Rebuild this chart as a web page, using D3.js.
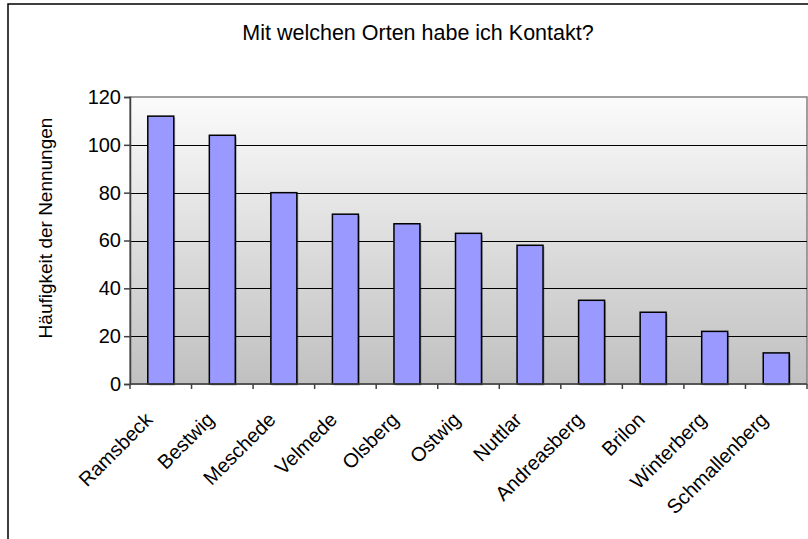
<!DOCTYPE html>
<html>
<head>
<meta charset="utf-8">
<script src="https://cdn.jsdelivr.net/npm/d3@7"></script>
<style>
  html, body { margin: 0; padding: 0; background: #fff; }
  svg { display: block; font-family: "Liberation Sans", Arial, sans-serif; }
</style>
</head>
<body>
<svg id="chart" width="808" height="539"></svg>
<script>
// Places and how often each one was named
const places = ["Ramsbeck", "Bestwig", "Meschede", "Velmede", "Olsberg", "Ostwig",
                "Nuttlar", "Andreasberg", "Brilon", "Winterberg", "Schmallenberg"];
const mentions = [112, 104, 80, 71, 67, 63, 58, 35, 30, 22, 13];
const yTicks = [0, 20, 40, 60, 80, 100, 120];
const titleText = "Mit welchen Orten habe ich Kontakt?";
const yTitle = "Häufigkeit der Nennungen";

const svg = d3.select("#chart");
const plot = { left: 130, right: 807, top: 97, bottom: 384 };

const x = d3.scaleBand()
  .domain(places)
  .range([plot.left, plot.right])
  .paddingInner(0.578)
  .paddingOuter(0.289);

const y = d3.scaleLinear()
  .domain([0, 120])
  .range([plot.bottom, plot.top]);

// Outer chart frame
svg.append("rect")
  .attr("x", 8).attr("y", 4)
  .attr("width", 840).attr("height", 560)
  .attr("fill", "#fff")
  .attr("stroke", "#000").attr("stroke-width", 1.5);

// Plot area background gradient
const defs = svg.append("defs");
const grad = defs.append("linearGradient")
  .attr("id", "plotBg").attr("x1", 0).attr("y1", 0).attr("x2", 0).attr("y2", 1);
grad.append("stop").attr("offset", "0%").attr("stop-color", "#fbfbfb");
grad.append("stop").attr("offset", "100%").attr("stop-color", "#c0c0c0");

svg.append("rect")
  .attr("x", plot.left).attr("y", plot.top)
  .attr("width", plot.right - plot.left).attr("height", plot.bottom - plot.top)
  .attr("fill", "url(#plotBg)")
  .attr("stroke", "#808080").attr("stroke-width", 1.5);

// Horizontal gridlines
svg.append("g")
  .selectAll("line")
  .data(yTicks.filter(v => v > 0 && v < 120))
  .join("line")
  .attr("x1", plot.left).attr("x2", plot.right)
  .attr("y1", d => Math.round(y(d)) + 0.5).attr("y2", d => Math.round(y(d)) + 0.5)
  .attr("stroke", "#000").attr("stroke-width", 1);

// Bar shadows
svg.append("g")
  .selectAll("rect")
  .data(places)
  .join("rect")
  .attr("x", d => x(d) + 1.5)
  .attr("y", (d, i) => y(mentions[i]) + 1.5)
  .attr("width", x.bandwidth())
  .attr("height", (d, i) => y(0) - y(mentions[i]))
  .attr("fill", "#000").attr("opacity", 0.25);

// Bars
svg.append("g")
  .selectAll("rect")
  .data(places)
  .join("rect")
  .attr("x", d => x(d))
  .attr("y", (d, i) => y(mentions[i]))
  .attr("width", x.bandwidth())
  .attr("height", (d, i) => y(0) - y(mentions[i]))
  .attr("fill", "#9999ff")
  .attr("stroke", "#000").attr("stroke-width", 1.5);

// Y axis
const yAxis = svg.append("g")
  .attr("transform", `translate(${plot.left},0)`)
  .call(d3.axisLeft(y).tickValues(yTicks).tickSize(6).tickPadding(3));
yAxis.select(".domain").attr("stroke", "#404040").attr("stroke-width", 1.5);
yAxis.selectAll(".tick line").attr("stroke", "#404040").attr("stroke-width", 1.5);
yAxis.selectAll(".tick text")
  .attr("font-size", 20).attr("fill", "#000")
  .attr("font-family", "Liberation Sans, Arial, sans-serif");

// X axis line and category boundary ticks
svg.append("line")
  .attr("x1", plot.left).attr("x2", plot.right)
  .attr("y1", plot.bottom).attr("y2", plot.bottom)
  .attr("stroke", "#404040").attr("stroke-width", 1.5);

const boundaries = places.map(p => x(p) + x.bandwidth() / 2 - x.step() / 2)
  .concat([x(places[places.length - 1]) + x.bandwidth() / 2 + x.step() / 2]);
svg.append("g")
  .selectAll("line")
  .data(boundaries)
  .join("line")
  .attr("x1", d => d).attr("x2", d => d)
  .attr("y1", plot.bottom).attr("y2", plot.bottom + 5)
  .attr("stroke", "#404040").attr("stroke-width", 1.5);

// Rotated category labels
svg.append("g")
  .selectAll("text")
  .data(places)
  .join("text")
  .attr("transform", d => `translate(${x(d) + x.bandwidth() / 2 - 7},${plot.bottom + 37}) rotate(-45)`)
  .attr("text-anchor", "end")
  .attr("font-size", 20)
  .attr("fill", "#000")
  .text(d => d);

// Y axis title
svg.append("text")
  .attr("transform", `translate(52,228) rotate(-90)`)
  .attr("text-anchor", "middle")
  .attr("font-size", 19)
  .attr("fill", "#000")
  .text(yTitle);

// Chart title
svg.append("text")
  .attr("x", 418).attr("y", 40)
  .attr("text-anchor", "middle")
  .attr("font-size", 21.5)
  .attr("fill", "#000")
  .text(titleText);
</script>
</body>
</html>
